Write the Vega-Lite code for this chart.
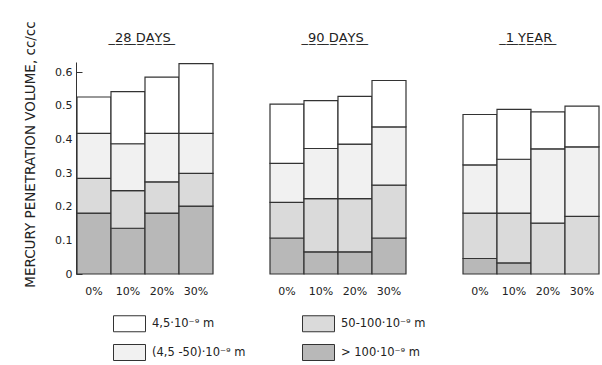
{
  "$schema": "https://vega.github.io/schema/vega-lite/v6.json",
  "background": "white",
  "padding": {"left": 22, "top": 20, "right": 5, "bottom": 5},
  "data": {"values": [
    {"age": "28 DAYS", "mix": "0%", "cls": "> 100·10⁻⁹ m", "rank": 1, "v": 0.181},
    {"age": "28 DAYS", "mix": "0%", "cls": "50-100·10⁻⁹ m", "rank": 2, "v": 0.103},
    {"age": "28 DAYS", "mix": "0%", "cls": "(4,5 -50)·10⁻⁹ m", "rank": 3, "v": 0.134},
    {"age": "28 DAYS", "mix": "0%", "cls": "4,5·10⁻⁹ m", "rank": 4, "v": 0.108},
    {"age": "28 DAYS", "mix": "10%", "cls": "> 100·10⁻⁹ m", "rank": 1, "v": 0.136},
    {"age": "28 DAYS", "mix": "10%", "cls": "50-100·10⁻⁹ m", "rank": 2, "v": 0.112},
    {"age": "28 DAYS", "mix": "10%", "cls": "(4,5 -50)·10⁻⁹ m", "rank": 3, "v": 0.139},
    {"age": "28 DAYS", "mix": "10%", "cls": "4,5·10⁻⁹ m", "rank": 4, "v": 0.155},
    {"age": "28 DAYS", "mix": "20%", "cls": "> 100·10⁻⁹ m", "rank": 1, "v": 0.181},
    {"age": "28 DAYS", "mix": "20%", "cls": "50-100·10⁻⁹ m", "rank": 2, "v": 0.093},
    {"age": "28 DAYS", "mix": "20%", "cls": "(4,5 -50)·10⁻⁹ m", "rank": 3, "v": 0.144},
    {"age": "28 DAYS", "mix": "20%", "cls": "4,5·10⁻⁹ m", "rank": 4, "v": 0.167},
    {"age": "28 DAYS", "mix": "30%", "cls": "> 100·10⁻⁹ m", "rank": 1, "v": 0.202},
    {"age": "28 DAYS", "mix": "30%", "cls": "50-100·10⁻⁹ m", "rank": 2, "v": 0.097},
    {"age": "28 DAYS", "mix": "30%", "cls": "(4,5 -50)·10⁻⁹ m", "rank": 3, "v": 0.119},
    {"age": "28 DAYS", "mix": "30%", "cls": "4,5·10⁻⁹ m", "rank": 4, "v": 0.207},
    {"age": "90 DAYS", "mix": "0%", "cls": "> 100·10⁻⁹ m", "rank": 1, "v": 0.107},
    {"age": "90 DAYS", "mix": "0%", "cls": "50-100·10⁻⁹ m", "rank": 2, "v": 0.106},
    {"age": "90 DAYS", "mix": "0%", "cls": "(4,5 -50)·10⁻⁹ m", "rank": 3, "v": 0.116},
    {"age": "90 DAYS", "mix": "0%", "cls": "4,5·10⁻⁹ m", "rank": 4, "v": 0.176},
    {"age": "90 DAYS", "mix": "10%", "cls": "> 100·10⁻⁹ m", "rank": 1, "v": 0.066},
    {"age": "90 DAYS", "mix": "10%", "cls": "50-100·10⁻⁹ m", "rank": 2, "v": 0.158},
    {"age": "90 DAYS", "mix": "10%", "cls": "(4,5 -50)·10⁻⁹ m", "rank": 3, "v": 0.149},
    {"age": "90 DAYS", "mix": "10%", "cls": "4,5·10⁻⁹ m", "rank": 4, "v": 0.142},
    {"age": "90 DAYS", "mix": "20%", "cls": "> 100·10⁻⁹ m", "rank": 1, "v": 0.066},
    {"age": "90 DAYS", "mix": "20%", "cls": "50-100·10⁻⁹ m", "rank": 2, "v": 0.158},
    {"age": "90 DAYS", "mix": "20%", "cls": "(4,5 -50)·10⁻⁹ m", "rank": 3, "v": 0.162},
    {"age": "90 DAYS", "mix": "20%", "cls": "4,5·10⁻⁹ m", "rank": 4, "v": 0.142},
    {"age": "90 DAYS", "mix": "30%", "cls": "> 100·10⁻⁹ m", "rank": 1, "v": 0.107},
    {"age": "90 DAYS", "mix": "30%", "cls": "50-100·10⁻⁹ m", "rank": 2, "v": 0.157},
    {"age": "90 DAYS", "mix": "30%", "cls": "(4,5 -50)·10⁻⁹ m", "rank": 3, "v": 0.173},
    {"age": "90 DAYS", "mix": "30%", "cls": "4,5·10⁻⁹ m", "rank": 4, "v": 0.138},
    {"age": "1 YEAR", "mix": "0%", "cls": "> 100·10⁻⁹ m", "rank": 1, "v": 0.046},
    {"age": "1 YEAR", "mix": "0%", "cls": "50-100·10⁻⁹ m", "rank": 2, "v": 0.135},
    {"age": "1 YEAR", "mix": "0%", "cls": "(4,5 -50)·10⁻⁹ m", "rank": 3, "v": 0.143},
    {"age": "1 YEAR", "mix": "0%", "cls": "4,5·10⁻⁹ m", "rank": 4, "v": 0.150},
    {"age": "1 YEAR", "mix": "10%", "cls": "> 100·10⁻⁹ m", "rank": 1, "v": 0.033},
    {"age": "1 YEAR", "mix": "10%", "cls": "50-100·10⁻⁹ m", "rank": 2, "v": 0.148},
    {"age": "1 YEAR", "mix": "10%", "cls": "(4,5 -50)·10⁻⁹ m", "rank": 3, "v": 0.160},
    {"age": "1 YEAR", "mix": "10%", "cls": "4,5·10⁻⁹ m", "rank": 4, "v": 0.148},
    {"age": "1 YEAR", "mix": "20%", "cls": "50-100·10⁻⁹ m", "rank": 2, "v": 0.151},
    {"age": "1 YEAR", "mix": "20%", "cls": "(4,5 -50)·10⁻⁹ m", "rank": 3, "v": 0.221},
    {"age": "1 YEAR", "mix": "20%", "cls": "4,5·10⁻⁹ m", "rank": 4, "v": 0.110},
    {"age": "1 YEAR", "mix": "30%", "cls": "50-100·10⁻⁹ m", "rank": 2, "v": 0.171},
    {"age": "1 YEAR", "mix": "30%", "cls": "(4,5 -50)·10⁻⁹ m", "rank": 3, "v": 0.207},
    {"age": "1 YEAR", "mix": "30%", "cls": "4,5·10⁻⁹ m", "rank": 4, "v": 0.121}
  ]},
  "facet": {
    "column": {"field": "age", "type": "nominal", "sort": ["28 DAYS", "90 DAYS", "1 YEAR"],
               "header": {"title": null, "labelOrient": "top", "labelFont": "DejaVu Sans", "labelFontSize": 13, "labelColor": "#222222", "labelPadding": 17,
                          "labelExpr": "' \u0332' + replace(datum.label, /(.)/g, '$1\u0332') + ' \u0332'"}}
  },
  "spacing": 55,
  "spec": {
    "width": 136, "height": 212,
    "mark": {"type": "bar", "stroke": "#333333", "strokeWidth": 1.2},
    "encoding": {
      "x": {"field": "mix", "type": "ordinal", "sort": ["0%", "10%", "20%", "30%"], "scale": {"paddingInner": 0, "paddingOuter": 0},
            "axis": {"title": null, "domain": false, "ticks": false, "labelAngle": 0, "labelPadding": 10}},
      "y": {"field": "v", "type": "quantitative", "aggregate": "sum", "stack": "zero",
            "scale": {"domain": [0, 0.63], "nice": false},
            "axis": {"title": "MERCURY PENETRATION VOLUME, cc/cc", "values": [0, 0.1, 0.2, 0.3, 0.4, 0.5, 0.6], "labelExpr": "datum.value === 0 ? '0' : format(datum.value, '.1f')", "grid": false, "tickSize": -6, "labelPadding": 10, "titleX": -39, "titleY": 92}},
      "color": {"field": "cls", "type": "nominal",
                "scale": {"domain": ["4,5·10⁻⁹ m", "50-100·10⁻⁹ m", "(4,5 -50)·10⁻⁹ m", "> 100·10⁻⁹ m"], "range": ["#ffffff", "#dadada", "#f1f1f1", "#b8b8b8"]},
                "legend": {"title": null, "orient": "none", "legendX": 44, "legendY": 253, "columns": 2, "direction": "horizontal", "columnPadding": 54, "rowPadding": 8,
                           "symbolType": "M-2,-1H2V1H-2Z", "symbolSize": 256, "symbolStrokeColor": "#333333", "symbolStrokeWidth": 1, "labelOffset": 14}},
      "order": {"field": "rank", "type": "quantitative"}
    }
  },
  "config": {
    "font": "DejaVu Sans",
    "view": {"stroke": null},
    "axis": {"labelFont": "DejaVu Sans", "labelFontSize": 11, "labelColor": "#222222", "titleFont": "DejaVu Sans", "titleFontSize": 13.5, "titleFontWeight": "normal", "titleColor": "#222222", "domainColor": "#333333", "tickColor": "#333333"},
    "legend": {"labelFont": "DejaVu Sans", "labelFontSize": 11.5, "labelColor": "#222222"}
  }
}
